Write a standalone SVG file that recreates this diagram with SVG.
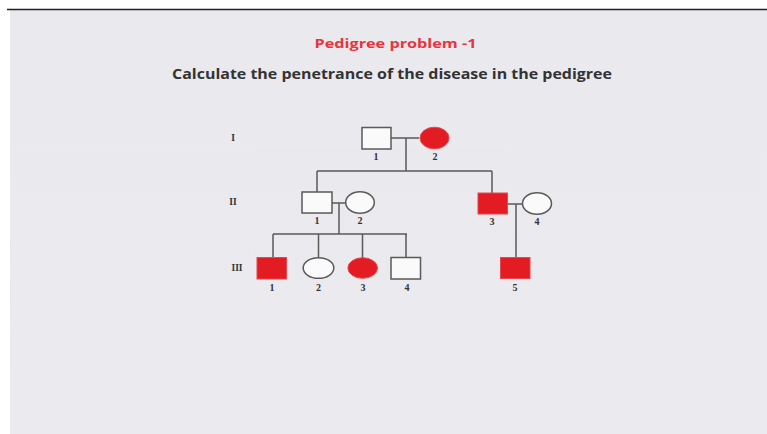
<svg xmlns="http://www.w3.org/2000/svg" width="767" height="434" viewBox="0 0 767 434">
<defs>
<linearGradient id="bg" x1="0" y1="0" x2="0" y2="1">
<stop offset="0" stop-color="#e9e9ee"/>
<stop offset="1" stop-color="#ebebef"/>
</linearGradient>
</defs>
<style>
.ln{stroke:#5a5a5a;stroke-width:1.5;fill:none}
.un{fill:#fafafa;stroke:#5a5a5a;stroke-width:1.5}
.af{fill:#e31b23;stroke:#e8474d;stroke-width:1}
.num{font-family:"Liberation Serif",serif;font-weight:bold;font-size:10px;fill:#333;text-anchor:middle}
.gen{font-family:"Liberation Serif",serif;font-weight:bold;font-size:9.5px;fill:#333;text-anchor:middle}
</style>
<rect x="0" y="0" width="767" height="434" fill="#ffffff"/>
<rect x="10" y="10" width="757" height="424" fill="url(#bg)"/>
<line x1="7" y1="9.5" x2="767" y2="9.5" stroke="#222" stroke-width="1.5"/>
<text x="395.5" y="47.5" font-family="Open Sans, 'Liberation Sans', sans-serif" font-weight="bold" font-size="12.5" fill="#e8343c" text-anchor="middle" textLength="162" lengthAdjust="spacingAndGlyphs">Pedigree problem -1</text>
<text x="392" y="79" font-family="Open Sans, 'Liberation Sans', sans-serif" font-weight="bold" font-size="13.5" fill="#333333" text-anchor="middle" textLength="440" lengthAdjust="spacingAndGlyphs">Calculate the penetrance of the disease in the pedigree</text>
<g id="gen-labels">
<text class="gen" x="233" y="141">I</text>
<text class="gen" x="233" y="205">II</text>
<text class="gen" x="237" y="271">III</text>
</g>
<g id="connectors">
<path class="ln" d="M391 138H419M406 138V171M317 171H492M317 171V192M492 171V193"/>
<path class="ln" d="M332 203H346M339 203V234M273 234H407M273 234V257M318.5 234V258M362.5 234V258M406 234V257"/>
<path class="ln" d="M508 204H522M516 204V257"/>
</g>
<g id="I-1"><rect class="un" x="362" y="127.5" width="29" height="21.5"/><text class="num" x="376" y="160">1</text></g>
<g id="I-2"><ellipse class="af" cx="434.5" cy="138" rx="14.5" ry="10.8"/><text class="num" x="435" y="160">2</text></g>
<g id="II-1"><rect class="un" x="302" y="192" width="30" height="21"/><text class="num" x="317" y="224">1</text></g>
<g id="II-2"><ellipse class="un" cx="360" cy="202.5" rx="14.3" ry="10.8"/><text class="num" x="360" y="224">2</text></g>
<g id="II-3"><rect class="af" x="478" y="193" width="29.5" height="21"/><text class="num" x="492" y="225">3</text></g>
<g id="II-4"><ellipse class="un" cx="537" cy="203.5" rx="14.5" ry="10.8"/><text class="num" x="537" y="225">4</text></g>
<g id="III-1"><rect class="af" x="257" y="257.5" width="29.5" height="21.5"/><text class="num" x="272" y="291">1</text></g>
<g id="III-2"><ellipse class="un" cx="318.5" cy="268" rx="15.3" ry="10.3"/><text class="num" x="318.5" y="291">2</text></g>
<g id="III-3"><ellipse class="af" cx="362.7" cy="268" rx="14.8" ry="10.3"/><text class="num" x="363" y="291">3</text></g>
<g id="III-4"><rect class="un" x="391" y="257.5" width="29.5" height="21.5"/><text class="num" x="407" y="291">4</text></g>
<g id="III-5"><rect class="af" x="500.5" y="257.5" width="29.5" height="21"/><text class="num" x="515" y="291">5</text></g>
</svg>
